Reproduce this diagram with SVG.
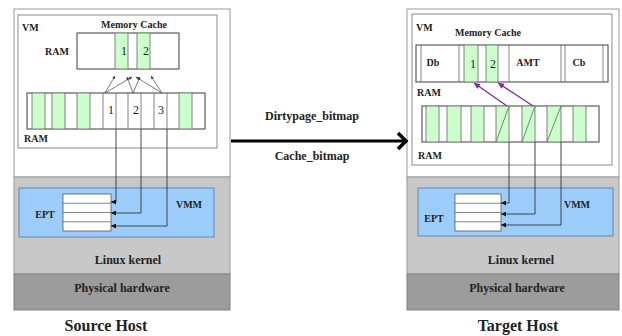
<svg xmlns="http://www.w3.org/2000/svg" width="622" height="336" viewBox="0 0 622 336">
<style>
text{font-family:"Liberation Serif","Times New Roman",serif;font-weight:bold;fill:#222}
.lbl{font-size:10px}
.mid{text-anchor:middle}
.big{font-size:12px}
.host{font-size:16px;text-anchor:middle}
.num{font-size:12px;font-weight:normal;text-anchor:middle}
.outer{fill:#fff;stroke:#9a9a9a;stroke-width:1}
.kern{fill:#c8c8c8;stroke:#9a9a9a}
.hw{fill:#9c9c9c;stroke:#808080}
.vm{fill:#fff;stroke:#8a8a8a}
.box{fill:#fff;stroke:#666;stroke-width:0.8}
.frame{fill:none;stroke:#666;stroke-width:0.8}
.g{fill:#ccffcc}
.cl{stroke:#666;stroke-width:0.8}
.vmm{fill:#9ccdfa;stroke:#5f86b0}
.ept{fill:#fff;stroke:#555;stroke-width:0.8}
.wire{fill:none;stroke:#333;stroke-width:0.9}
.fan{stroke:#444;stroke-width:0.7;fill:none}
.pur{stroke:#7b2d8e;stroke-width:1.3;fill:none}
</style>
<defs>
<marker id="ah" viewBox="0 0 10 10" refX="10" refY="5" markerWidth="7" markerHeight="5" markerUnits="userSpaceOnUse" orient="auto"><path d="M0,0 L10,5 L0,10 z" fill="#111"/></marker>
<marker id="sm" viewBox="0 0 10 10" refX="10" refY="5" markerWidth="4" markerHeight="3" markerUnits="userSpaceOnUse" orient="auto"><path d="M0,0 L10,5 L0,10 z" fill="#333"/></marker>
<marker id="pm" viewBox="0 0 10 10" refX="10" refY="5" markerWidth="8" markerHeight="6" markerUnits="userSpaceOnUse" orient="auto"><path d="M0,0 L10,5 L0,10 z" fill="#7b2d8e"/></marker>
</defs>

<!-- Source host -->
<g id="source-host">
<rect class="outer" x="14" y="9" width="216" height="168"/>
<rect class="kern" x="14" y="177" width="216" height="97"/>
<rect class="hw" x="14" y="274" width="216" height="36"/>
<text class="big mid" x="128" y="264">Linux kernel</text>
<text class="big mid" x="122" y="292">Physical hardware</text>
<text class="host" x="106" y="331">Source Host</text>
</g>
<g id="source-vm">
<rect class="vm" x="18" y="15" width="199" height="133"/>
<text class="lbl" x="22" y="31">VM</text>
<text class="lbl" x="45" y="55">RAM</text>
<text class="lbl" x="24" y="142">RAM</text>
</g>
<g id="source-cache">
<rect class="box" x="77" y="33" width="102" height="36"/>
<rect class="g" x="115" y="33" width="13" height="36"/>
<rect class="g" x="137" y="33" width="13" height="36"/>
<path class="cl" d="M115,33V69M128,33V69M137,33V69M150,33V69"/>
<rect class="frame" x="77" y="33" width="102" height="36"/>
<text class="lbl mid" x="134" y="28">Memory Cache</text>
<text class="num" x="124" y="55">1</text>
<text class="num" x="146" y="55">2</text>
</g>
<g id="source-ram">
<rect class="box" x="27" y="93" width="178" height="36"/>
<rect class="g" x="32" y="93" width="13" height="36"/>
<rect class="g" x="52" y="93" width="13" height="36"/>
<rect class="g" x="77" y="93" width="13" height="36"/>
<rect class="g" x="179" y="93" width="13" height="36"/>
<path class="cl" d="M32,93V129M45,93V129M52,93V129M65,93V129M77,93V129M90,93V129M103,93V129M116,93V129M128,93V129M141,93V129M154,93V129M167,93V129M179,93V129M192,93V129"/>
<rect class="frame" x="27" y="93" width="178" height="36"/>
<text class="num" x="111" y="114">1</text>
<text class="num" x="136" y="114">2</text>
<text class="num" x="161" y="114">3</text>
</g>
<g id="source-vmm">
<rect class="vmm" x="19" y="188" width="195" height="49"/>
<text class="lbl mid" x="189" y="208">VMM</text>
<text class="lbl mid" x="45" y="218">EPT</text>
</g>
<g id="source-ept">
<rect class="ept" x="63" y="194" width="48" height="37"/>
<path class="cl" d="M63,203.25H111M63,212.5H111M63,221.75H111"/>
</g>

<!-- Target host -->
<g id="target-host">
<rect class="outer" x="407" y="9" width="212" height="168"/>
<rect class="kern" x="407" y="177" width="212" height="97"/>
<rect class="hw" x="407" y="274" width="212" height="36"/>
<text class="big mid" x="521" y="264">Linux kernel</text>
<text class="big mid" x="517" y="292">Physical hardware</text>
<text class="host" x="518" y="331">Target Host</text>
</g>
<g id="target-vm">
<rect class="vm" x="412" y="14" width="200" height="151"/>
<text class="lbl" x="416" y="31">VM</text>
<text class="lbl" x="417" y="96">RAM</text>
<text class="lbl" x="418" y="159">RAM</text>
</g>
<g id="target-cache">
<rect class="box" x="416" y="45" width="192" height="37"/>
<rect class="g" x="464" y="45" width="14" height="37"/>
<rect class="g" x="486" y="45" width="12" height="37"/>
<path class="cl" d="M421,45V82M459,45V82M464,45V82M478,45V82M486,45V82M498,45V82M509,45V82M561,45V82M565,45V82M603,45V82"/>
<rect class="frame" x="416" y="45" width="192" height="37"/>
<text class="lbl mid" x="488" y="36">Memory Cache</text>
<text class="lbl mid" x="433" y="66">Db</text>
<text class="num" x="473" y="68">1</text>
<text class="num" x="493" y="68">2</text>
<text class="lbl mid" x="528" y="66">AMT</text>
<text class="lbl mid" x="579" y="66">Cb</text>
</g>
<g id="target-ram">
<rect class="box" x="422" y="106" width="177" height="36"/>
<rect class="g" x="426" y="106" width="13" height="36"/>
<rect class="g" x="447" y="106" width="14" height="36"/>
<rect class="g" x="471" y="106" width="13" height="36"/>
<rect class="g" x="496" y="106" width="13" height="36"/>
<rect class="g" x="522" y="106" width="13" height="36"/>
<rect class="g" x="547" y="106" width="14" height="36"/>
<rect class="g" x="573" y="106" width="13" height="36"/>
<path class="cl" d="M426,106V142M439,106V142M447,106V142M461,106V142M471,106V142M484,106V142M496,106V142M509,106V142M522,106V142M535,106V142M547,106V142M561,106V142M573,106V142M586,106V142"/>
<path class="cl" d="M496,142L509,106M522,142L535,106M547,142L561,106"/>
<rect class="frame" x="422" y="106" width="177" height="36"/>
</g>
<g id="target-vmm">
<rect class="vmm" x="418" y="188" width="195" height="48"/>
<text class="lbl mid" x="577" y="208">VMM</text>
<text class="lbl mid" x="434" y="222">EPT</text>
</g>
<g id="target-ept">
<rect class="ept" x="455" y="194" width="46" height="37"/>
<path class="cl" d="M455,203.25H501M455,212.5H501M455,221.75H501"/>
</g>

<!-- Connectors -->
<g id="connectors">
<path class="fan" marker-end="url(#sm)" d="M105,93L115,76"/>
<path class="fan" marker-end="url(#sm)" d="M105,93L132,77"/>
<path class="fan" marker-end="url(#sm)" d="M133,93L127,77"/>
<path class="fan" marker-end="url(#sm)" d="M133,93L140,77"/>
<path class="fan" marker-end="url(#sm)" d="M162,93L136,77"/>
<path class="fan" marker-end="url(#sm)" d="M162,93L151,76"/>
<path class="wire" marker-end="url(#ah)" d="M116,129V202H111"/>
<path class="wire" marker-end="url(#ah)" d="M141,129V213H111"/>
<path class="wire" marker-end="url(#ah)" d="M167,129V226H111"/>
<path class="wire" marker-end="url(#ah)" d="M509,142V203H501"/>
<path class="wire" marker-end="url(#ah)" d="M535,142V214H501"/>
<path class="wire" marker-end="url(#ah)" d="M561,142V225H501"/>
<path class="pur" marker-end="url(#pm)" d="M507,106L474,83"/>
<path class="pur" marker-end="url(#pm)" d="M533,106L498,83"/>
<path d="M231,141H405" stroke="#000" stroke-width="3" fill="none"/>
<path d="M398,133L406,141L398,149" stroke="#000" stroke-width="3.5" fill="none"/>
<text class="big mid" x="312" y="120">Dirtypage_bitmap</text>
<text class="big mid" x="312" y="160">Cache_bitmap</text>
</g>
</svg>
